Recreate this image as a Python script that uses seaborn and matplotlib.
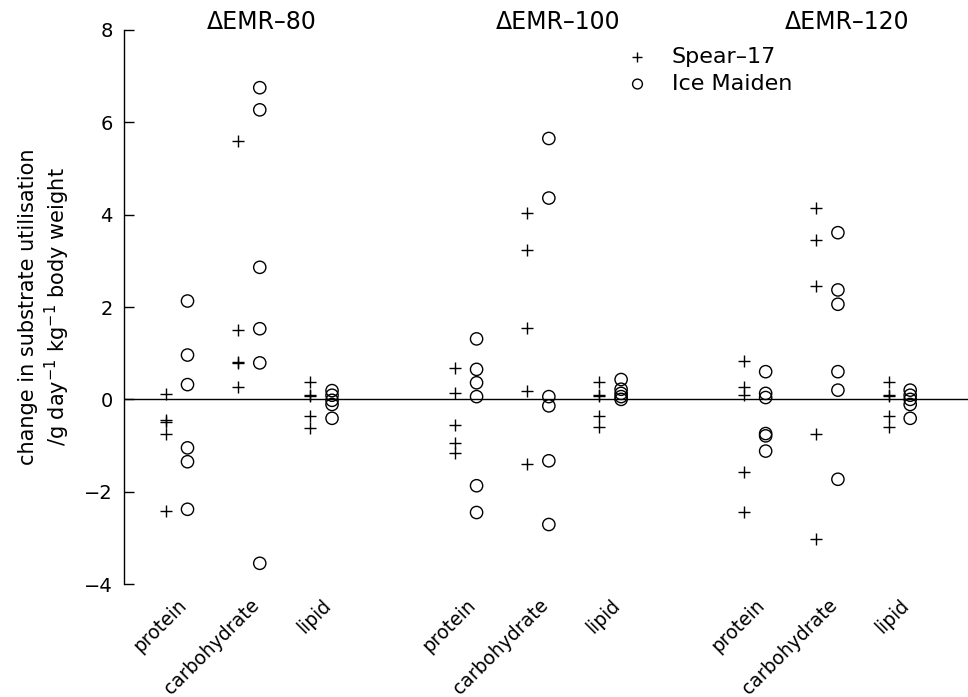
import pandas as pd
import matplotlib.pyplot as plt
import matplotlib.transforms as mtransforms
import seaborn as sns

# Groups, categories and varieties
groups = ["ΔEMR–80", "ΔEMR–100", "ΔEMR–120"]
nutrients = ["protein", "carbohydrate", "lipid"]
varieties = ["Spear–17", "Ice Maiden"]

# Values (g day-1 kg-1 body weight)
spear_80_protein = [0.11, -0.45, -0.48, -0.75, -2.42]
spear_80_carb = [5.59, 1.51, 0.80, 0.78, 0.27]
spear_80_lipid = [0.37, 0.09, 0.08, -0.36, -0.61]
maiden_80_protein = [2.13, 0.96, 0.32, -1.05, -1.35, -2.38]
maiden_80_carb = [6.75, 6.27, 2.86, 1.53, 0.79, -3.55]
maiden_80_lipid = [0.19, 0.09, -0.02, -0.11, -0.41]

spear_100_protein = [0.68, 0.14, -0.56, -0.94, -1.17]
spear_100_carb = [4.03, 3.23, 1.55, 0.19, -1.39]
spear_100_lipid = [0.37, 0.09, 0.08, -0.36, -0.59]
maiden_100_protein = [1.31, 0.65, 0.36, 0.06, -1.87, -2.45]
maiden_100_carb = [5.65, 4.36, 0.06, -0.14, -1.33, -2.71]
maiden_100_lipid = [0.43, 0.22, 0.13, 0.06, 0.0]

spear_120_protein = [0.83, 0.26, 0.09, -1.57, -2.43]
spear_120_carb = [4.15, 3.46, 2.46, -0.76, -3.02]
spear_120_lipid = [0.38, 0.09, 0.08, -0.35, -0.59]
maiden_120_protein = [0.60, 0.13, 0.04, -0.74, -0.79, -1.12]
maiden_120_carb = [3.61, 2.37, 2.06, 0.60, 0.20, -1.73]
maiden_120_lipid = [0.20, 0.09, 0.0, -0.11, -0.41]

values = {
    (0, 0, 0): spear_80_protein, (0, 1, 0): spear_80_carb, (0, 2, 0): spear_80_lipid,
    (0, 0, 1): maiden_80_protein, (0, 1, 1): maiden_80_carb, (0, 2, 1): maiden_80_lipid,
    (1, 0, 0): spear_100_protein, (1, 1, 0): spear_100_carb, (1, 2, 0): spear_100_lipid,
    (1, 0, 1): maiden_100_protein, (1, 1, 1): maiden_100_carb, (1, 2, 1): maiden_100_lipid,
    (2, 0, 0): spear_120_protein, (2, 1, 0): spear_120_carb, (2, 2, 0): spear_120_lipid,
    (2, 0, 1): maiden_120_protein, (2, 1, 1): maiden_120_carb, (2, 2, 1): maiden_120_lipid,
}

# Long table with x positions: 4 units between groups, 1 between nutrients
rows = []
for (gi, ni, vi), vals in values.items():
    for v in vals:
        rows.append({
            "group": groups[gi],
            "nutrient": nutrients[ni],
            "variety": varieties[vi],
            "x": gi * 4 + ni + (-0.15 if vi == 0 else 0.15),
            "value": v,
        })
df = pd.DataFrame(rows)

sns.set_style("white")
plt.rcParams["font.family"] = ["DejaVu Sans"]
plt.rcParams["text.color"] = "black"
plt.rcParams["axes.labelcolor"] = "black"
plt.rcParams["xtick.color"] = "black"
plt.rcParams["ytick.color"] = "black"

fig = plt.figure(figsize=(9.68, 6.97), dpi=100)
ax = fig.add_axes([0.128, 0.162, 0.872, 0.795])

ax.axhline(0, color="black", lw=1, zorder=1)

sns.scatterplot(data=df[df["variety"] == varieties[0]], x="x", y="value",
                marker="+", s=80, color="black", linewidth=1,
                label=varieties[0], ax=ax, zorder=3)
sns.scatterplot(data=df[df["variety"] == varieties[1]], x="x", y="value",
                marker="o", s=78, facecolors="none", edgecolor="black",
                linewidth=1, label=varieties[1], ax=ax, zorder=3)

ax.set_xlim(-0.73, 10.95)
ax.set_ylim(-4, 8)
ax.set_yticks(range(-4, 9, 2))

tick_pos = [gi * 4 + ni for gi in range(3) for ni in range(3)]
ax.set_xticks(tick_pos)
ax.tick_params(axis="x", length=0, pad=13)
ax.tick_params(axis="y", direction="in", length=7, width=1, labelsize=14,
               left=True, pad=8)
ax.set_xticklabels(nutrients * 3, rotation=45, ha="right", va="center",
                   rotation_mode="anchor", fontsize=13.5)
# nudge the slanted labels a little to the right (after tick_params)
offset = mtransforms.ScaledTranslation(0.07, 0, fig.dpi_scale_trans)
for lab in ax.get_xticklabels():
    lab.set_transform(lab.get_transform() + offset)

# group titles, left-aligned a bit before the carbohydrate column
for gi, g in enumerate(groups):
    ax.text(gi * 4 + 0.42, 8.02, g, ha="left", va="baseline", fontsize=17,
            clip_on=False)

for side in ["top", "right", "bottom"]:
    ax.spines[side].set_visible(False)
ax.spines["left"].set_color("black")
ax.spines["left"].set_linewidth(1)

ax.set_xlabel("")
ax.set_ylabel("change in substrate utilisation\n/g day$^{-1}$ kg$^{-1}$ body weight",
              fontsize=15)
ax.yaxis.set_label_coords(-0.062, 0.5)

ax.legend(loc="upper left", bbox_to_anchor=(0.565, 1.005), frameon=False,
          fontsize=16, handletextpad=0.8, labelspacing=0.3, markerscale=0.8,
          handlelength=1.5)

fig.savefig("out.png", dpi=100)
